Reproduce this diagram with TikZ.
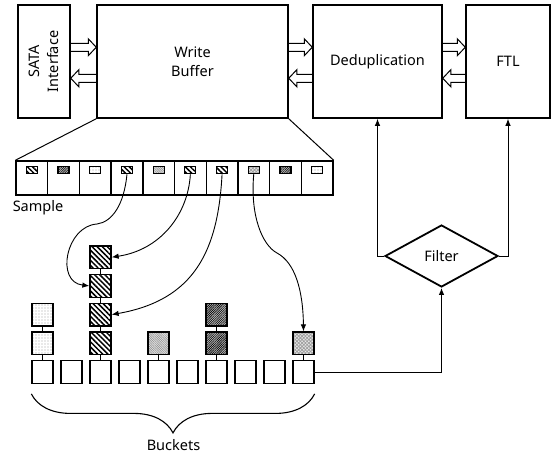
\documentclass[tikz,border=0pt]{standalone}
\usepackage{fontspec}
\setmainfont{Noto Sans}
\usetikzlibrary{calc,shapes.geometric,patterns.meta,decorations.pathreplacing,arrows.meta}
\newcommand\fs{\fontsize{14.5pt}{19pt}\selectfont}
\newcommand\hollowarrow[2]{%
  \draw[harrow] let \p1=(#1), \p2=(#2), \n1={(\x2-\x1)/abs(\x2-\x1)} in
    (\x1,{\y1+4pt}) -- ({\x2-\n1*8pt},{\y1+4pt}) -- ({\x2-\n1*8pt},{\y1+8.5pt}) -- (\x2,\y1)
    -- ({\x2-\n1*8pt},{\y1-8.5pt}) -- ({\x2-\n1*8pt},{\y1-4pt}) -- (\x1,{\y1-4pt});}
\begin{document}
\begin{tikzpicture}[x=1pt,y=-1pt,
  box/.style={draw, line width=1.5pt, inner sep=0pt, align=center, font=\fs},
  harrow/.style={line width=1pt, line join=miter},
  cell/.style={draw, line width=1.4pt, minimum width=31.7pt, minimum height=34pt, inner sep=0pt},
  icon/.style={draw, line width=1.2pt, minimum width=11pt, minimum height=7pt, inner sep=0pt},
  bsq/.style={draw, line width=1.3pt, minimum width=21pt, minimum height=22.5pt, inner sep=0pt},
  stub/.style={line width=1.6pt},
  curv/.style={line width=0.9pt, -{Latex[length=7pt,width=5.5pt]}},
  conn/.style={line width=1pt, -{Latex[length=7pt,width=5.5pt]}},
  pathatch/.style={pattern={Lines[angle=-45,distance=3.6pt,line width=1.5pt]}, pattern color=black},
  patdots/.style={pattern={Dots[distance=3pt,radius=0.6pt]}, pattern color=gray!75},
  patlight/.style={preaction={fill=gray!25}, pattern={Lines[angle=-45,distance=1.6pt,line width=0.5pt]}, pattern color=gray!90},
  patdark/.style={preaction={fill=gray!55}, pattern={Lines[angle=45,distance=1.6pt,line width=0.6pt]}, pattern color=black},
  patcheck/.style={preaction={fill=gray!15}, pattern={Hatch[angle=45,distance=2.4pt,line width=0.8pt]}, pattern color=gray!75},
]
\useasboundingbox (0,0) rectangle (553,455);

% top boxes
\node[box, minimum width=52pt, minimum height=113pt] (sata) at (44,61.5) {};
\node[rotate=90, align=center, font=\fs] (satat) at (sata.center) {SATA\\Interface};
\node[box, minimum width=191pt, minimum height=113pt] (wb) at (192.5,61.5) {Write\\Buffer};
\node[box, minimum width=129pt, minimum height=113pt] (dd) at (377.5,61.5) {Deduplication};
\node[box, minimum width=84pt, minimum height=113pt] (ftl) at (508,61.5) {FTL};

% hollow arrows
\coordinate (saU) at ($(sata.north east)+(0,43)$);
\coordinate (saL) at ($(sata.north east)+(0,74)$);
\coordinate (wbwU) at ($(wb.north west)+(0,43)$);
\coordinate (wbwL) at ($(wb.north west)+(0,74)$);
\coordinate (wbeU) at ($(wb.north east)+(0,43)$);
\coordinate (wbeL) at ($(wb.north east)+(0,74)$);
\coordinate (ddwU) at ($(dd.north west)+(0,43)$);
\coordinate (ddwL) at ($(dd.north west)+(0,74)$);
\coordinate (ddeU) at ($(dd.north east)+(0,43)$);
\coordinate (ddeL) at ($(dd.north east)+(0,74)$);
\coordinate (ftU) at ($(ftl.north west)+(0,43)$);
\coordinate (ftL) at ($(ftl.north west)+(0,74)$);
\hollowarrow{saU}{wbwU}
\hollowarrow{wbwL}{saL}
\hollowarrow{wbeU}{ddwU}
\hollowarrow{ddwL}{wbeL}
\hollowarrow{ddeU}{ftU}
\hollowarrow{ftL}{ddeL}

% sample row
\foreach \i in {1,...,10} \node[cell] (c\i) at ({16+31.7*(\i-0.5)},178) {};
\foreach \i/\p in {1/pathatch,2/patdark,3/patdots,4/pathatch,5/patlight,6/pathatch,7/pathatch,8/patcheck,9/patdark,10/patdots}
  \node[icon,\p] (s\i) at ($(c\i.north)+(0,10)$) {};
\draw[line width=1pt] (wb.south west) -- (c1.north west);
\draw[line width=1pt] (wb.south east) -- (c10.north east);
\node[font=\fs] (samp) at (38,208) {Sample};

% buckets
\foreach \i in {1,...,10} \node[bsq] (b\i) at ({42.5+29*(\i-1)},372) {};
\node[bsq,patdots] (k1a) at (42.5,343.3) {};
\node[bsq,patdots] (k1b) at (42.5,314.6) {};
\node[bsq,pathatch] (k3a) at (100.5,343.3) {};
\node[bsq,pathatch] (k3b) at (100.5,314.6) {};
\node[bsq,pathatch] (k3c) at (100.5,285.9) {};
\node[bsq,pathatch] (k3d) at (100.5,257.2) {};
\node[bsq,patlight] (k5a) at (158.5,343.3) {};
\node[bsq,patdark] (k7a) at (216.5,343.3) {};
\node[bsq,patdark] (k7b) at (216.5,314.6) {};
\node[bsq,patcheck] (k10a) at (303.5,343.3) {};
\draw[stub] (b1.north) -- (k1a.south) (k1a.north) -- (k1b.south);
\draw[stub] (b3.north) -- (k3a.south) (k3a.north) -- (k3b.south) (k3b.north) -- (k3c.south) (k3c.north) -- (k3d.south);
\draw[stub] (b5.north) -- (k5a.south);
\draw[stub] (b7.north) -- (k7a.south) (k7a.north) -- (k7b.south);
\draw[stub] (b10.north) -- (k10a.south);

% curved arrows
\draw[curv] (s4.south) .. controls (124,205) and (112,222) .. (97,224) .. controls (66,226) and (55,282) .. (k3c.west);
\draw[curv] (s6.south) .. controls (188,215) and (160,250) .. (k3d.east);
\draw[curv] (s7.south) .. controls (218,250) and (195,300) .. (k3b.east);
\draw[curv] (s8.south) .. controls (250,215) and (262,245) .. (277,253) .. controls (295,262.6) and (303,290) .. (k10a.north);

% brace
\coordinate (brR) at ($(b10.south east)+(0,10)$);
\coordinate (brL) at ($(b1.south west)+(0,10)$);
\draw[line width=1.1pt, decorate, decoration={brace, amplitude=39pt}] (brR) -- (brL);
\node[font=\fs, inner sep=0pt] (bk) at (173.5,445.5) {Buckets};

% filter
\node[diamond, draw, line width=1.8pt, minimum width=113pt, minimum height=62pt, inner sep=0pt, font=\fs] (filter) at (441.5,256) {Filter};
\draw[conn] (b10.east) -| (filter.south);
\draw[conn] (filter.west) -| (dd.south);
\draw[conn] (filter.east) -| (ftl.south);
\end{tikzpicture}
\end{document}
